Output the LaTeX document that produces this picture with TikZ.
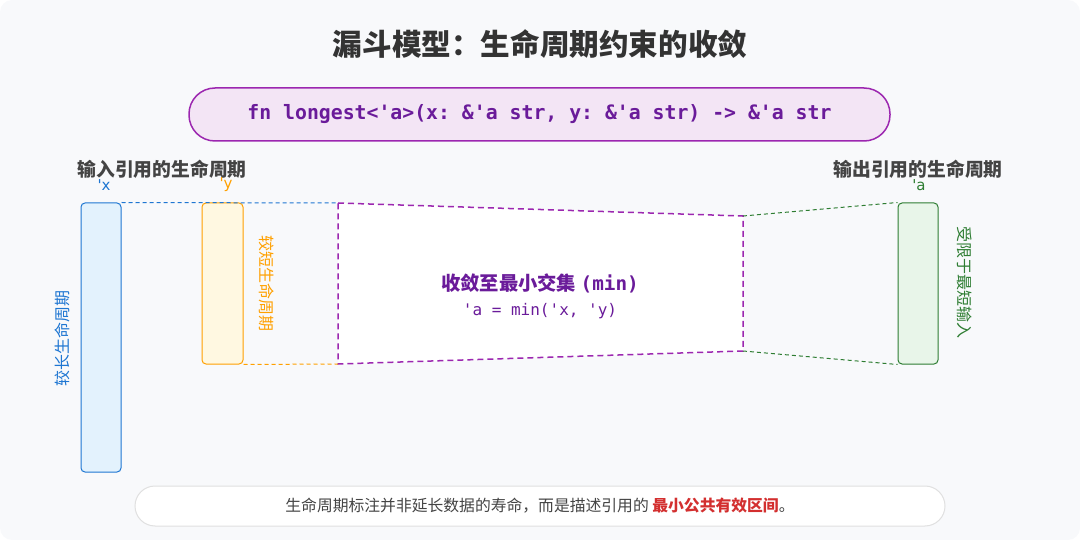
\documentclass[tikz,border=0pt]{standalone}
\usepackage{fontspec}
\setmainfont{Noto Sans CJK SC}
\newfontfamily\dvs{DejaVu Sans}
\setmonofont{DejaVu Sans Mono}
\definecolor{bg}{HTML}{F8F9FB}
\definecolor{tgray}{HTML}{333333}
\definecolor{lgray}{HTML}{444444}
\definecolor{pur}{HTML}{9C27B0}
\definecolor{dpur}{HTML}{6A1B9A}
\definecolor{lpur}{HTML}{F3E5F5}
\definecolor{blu}{HTML}{1E76D2}
\definecolor{lblu}{HTML}{E3F2FD}
\definecolor{org}{HTML}{FFA000}
\definecolor{lorg}{HTML}{FFF8E1}
\definecolor{grn}{HTML}{2E7D32}
\definecolor{lgrn}{HTML}{E8F5E9}
\definecolor{red1}{HTML}{D32F2F}
\begin{document}
\begin{tikzpicture}[x=1pt,y=-1pt,
  bar/.style={rounded corners=4pt,line width=1pt},
  hdr/.style={font=\fontsize{18.8}{20}\selectfont\bfseries,text=lgray},
  lbl/.style={font=\fontsize{15}{17}\selectfont\dvs},
  vtxt/.style={font=\fontsize{16}{18}\selectfont},
  dl/.style={dashed,line width=1pt,dash pattern=on 4pt off 3pt}]
\fill[bg,rounded corners=12pt] (0,0) rectangle (1080,540);
\useasboundingbox (0,0) rectangle (1080,540);
\node[font=\fontsize{29.6}{32}\selectfont\bfseries,text=tgray] (title) at (540,44) {漏斗模型：生命周期约束的收敛};
\node[draw=pur,fill=lpur,line width=1.5pt,rounded corners=26pt,minimum width=701pt,minimum height=53pt] (code) at (539.5,114.5) {};
\node[font=\fontsize{19.8}{22}\selectfont\ttfamily\bfseries,text=dpur] at (code) {fn longest<'a>(x: \&'a str, y: \&'a str) -> \&'a str};
\node[hdr] (inh) at (162,169) {输入引用的生命周期};
\node[hdr] (outh) at (918,169) {输出引用的生命周期};
\node[lbl,text=blu] (lx) at (104,185) {'x};
\node[lbl,text=org] (ly) at (226,185) {'y};
\node[lbl,text=grn] (la) at (919,185) {'a};
% funnel
\coordinate (f1) at (338,203); \coordinate (f2) at (743,216);
\coordinate (f3) at (743,351); \coordinate (f4) at (338,364);
\fill[white] (f1)--(f2)--(f3)--(f4)--cycle;
\draw[pur,dl,line width=1.5pt,dash pattern=on 6pt off 4pt] (f1)--(f2)--(f3)--(f4)--cycle;
\node[draw=blu,fill=lblu,bar,minimum width=40pt,minimum height=269pt] (bx) at (101,337.5) {};
\node[draw=org,fill=lorg,bar,minimum width=41pt,minimum height=161pt] (by) at (222.5,283.5) {};
\node[draw=grn,fill=lgrn,bar,minimum width=40pt,minimum height=161pt] (ba) at (918,283.5) {};
\draw[blu,dl] (bx.north east)--(f1);
\draw[org,dl] (by.south east)--(f4);
\draw[grn,dl] (f2)--(ba.north west);
\draw[grn,dl] (f3)--(ba.south west);
\node[vtxt,text=blu,rotate=90] (vx) at (62,338) {较长生命周期};
\node[vtxt,text=org,rotate=-90] (vy) at (267,284) {较短生命周期};
\node[vtxt,text=grn,rotate=-90] (va) at (965,283) {受限于最短输入};
\node[font=\fontsize{19.3}{21}\selectfont\bfseries,text=dpur] (m1) at (540,283) {收敛至最小交集 {\ttfamily (min)}};
\node[font=\fontsize{16}{18}\selectfont\ttfamily,text=dpur] (m2) at (540,311) {'a = min('x, 'y)};
\node[draw=black!12,fill=white,line width=1pt,rounded corners=20pt,minimum width=810pt,minimum height=40pt] (cap) at (540,506) {};
\node[font=\fontsize{15.8}{17}\selectfont,text=lgray] at (cap) {生命周期标注并非延长数据的寿命，而是描述引用的 {\bfseries\color{red1}最小公共有效区间}。};
\end{tikzpicture}
\end{document}
